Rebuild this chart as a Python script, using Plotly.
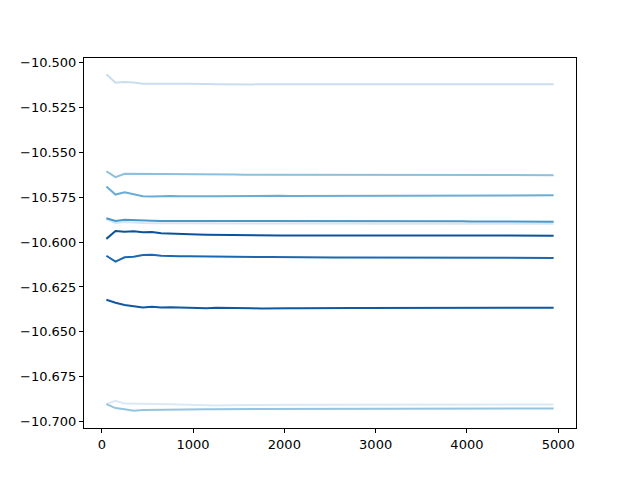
import plotly.graph_objects as go

steps = [50 + 100 * i for i in range(50)]

line_a = [-10.5065, -10.5112, -10.5108, -10.5110, -10.5118, -10.5119, -10.5119, -10.5120, -10.5118, -10.5118,
          -10.5117, -10.5119, -10.5120, -10.5121, -10.5122, -10.5122, -10.5121, -10.5120, -10.5120, -10.5120,
          -10.5119, -10.5119, -10.5119, -10.5119, -10.5118, -10.5118, -10.5118, -10.5119, -10.5119, -10.5118,
          -10.5118, -10.5119, -10.5119, -10.5119, -10.5119, -10.5119, -10.5120, -10.5120, -10.5120, -10.5120,
          -10.5120, -10.5120, -10.5119, -10.5120, -10.5120, -10.5120, -10.5120, -10.5120, -10.5120, -10.5120]
line_b = [-10.5605, -10.5638, -10.5619, -10.5619, -10.5621, -10.5619, -10.5619, -10.5620, -10.5622, -10.5620,
          -10.5621, -10.5622, -10.5622, -10.5623, -10.5623, -10.5624, -10.5624, -10.5624, -10.5625, -10.5625,
          -10.5625, -10.5626, -10.5625, -10.5626, -10.5626, -10.5626, -10.5626, -10.5626, -10.5627, -10.5627,
          -10.5627, -10.5626, -10.5627, -10.5627, -10.5627, -10.5628, -10.5627, -10.5627, -10.5627, -10.5627,
          -10.5627, -10.5627, -10.5627, -10.5627, -10.5627, -10.5627, -10.5627, -10.5627, -10.5627, -10.5627]
line_c = [-10.5690, -10.5735, -10.5722, -10.5733, -10.5744, -10.5746, -10.5743, -10.5743, -10.5744, -10.5743,
          -10.5744, -10.5744, -10.5745, -10.5744, -10.5744, -10.5743, -10.5743, -10.5743, -10.5742, -10.5742,
          -10.5743, -10.5743, -10.5743, -10.5742, -10.5742, -10.5742, -10.5742, -10.5742, -10.5742, -10.5742,
          -10.5741, -10.5741, -10.5741, -10.5742, -10.5741, -10.5741, -10.5741, -10.5740, -10.5740, -10.5740,
          -10.5740, -10.5740, -10.5739, -10.5739, -10.5739, -10.5739, -10.5739, -10.5739, -10.5739, -10.5739]
line_d = [-10.5867, -10.5882, -10.5876, -10.5879, -10.5880, -10.5881, -10.5882, -10.5883, -10.5884, -10.5884,
          -10.5884, -10.5883, -10.5882, -10.5882, -10.5881, -10.5881, -10.5881, -10.5881, -10.5881, -10.5881,
          -10.5880, -10.5880, -10.5880, -10.5880, -10.5881, -10.5881, -10.5881, -10.5882, -10.5882, -10.5882,
          -10.5882, -10.5883, -10.5883, -10.5883, -10.5883, -10.5884, -10.5884, -10.5884, -10.5884, -10.5884,
          -10.5885, -10.5885, -10.5885, -10.5885, -10.5885, -10.5885, -10.5885, -10.5886, -10.5886, -10.5886]
line_e = [-10.5872, -10.5893, -10.5888, -10.5892, -10.5894, -10.5895, -10.5895, -10.5896, -10.5896, -10.5896,
          -10.5896, -10.5895, -10.5895, -10.5895, -10.5894, -10.5894, -10.5894, -10.5894, -10.5894, -10.5895,
          -10.5895, -10.5895, -10.5895, -10.5896, -10.5896, -10.5896, -10.5896, -10.5896, -10.5897, -10.5897,
          -10.5897, -10.5897, -10.5897, -10.5897, -10.5897, -10.5897, -10.5898, -10.5898, -10.5898, -10.5898,
          -10.5898, -10.5898, -10.5898, -10.5898, -10.5898, -10.5898, -10.5898, -10.5898, -10.5898, -10.5898]
line_f = [-10.5982, -10.5938, -10.5942, -10.5940, -10.5945, -10.5944, -10.5950, -10.5953, -10.5955, -10.5956,
          -10.5958, -10.5959, -10.5960, -10.5961, -10.5962, -10.5962, -10.5962, -10.5963, -10.5963, -10.5963,
          -10.5963, -10.5963, -10.5963, -10.5963, -10.5963, -10.5963, -10.5964, -10.5964, -10.5964, -10.5964,
          -10.5964, -10.5964, -10.5964, -10.5964, -10.5964, -10.5964, -10.5964, -10.5964, -10.5964, -10.5964,
          -10.5964, -10.5964, -10.5964, -10.5964, -10.5964, -10.5964, -10.5964, -10.5964, -10.5964, -10.5964]
line_g = [-10.6076, -10.6109, -10.6085, -10.6082, -10.6072, -10.6070, -10.6076, -10.6079, -10.6079, -10.6079,
          -10.6080, -10.6081, -10.6081, -10.6082, -10.6081, -10.6082, -10.6083, -10.6083, -10.6083, -10.6084,
          -10.6084, -10.6085, -10.6085, -10.6085, -10.6085, -10.6086, -10.6086, -10.6086, -10.6086, -10.6087,
          -10.6087, -10.6087, -10.6087, -10.6087, -10.6087, -10.6087, -10.6087, -10.6088, -10.6088, -10.6088,
          -10.6088, -10.6088, -10.6088, -10.6088, -10.6088, -10.6088, -10.6088, -10.6088, -10.6088, -10.6088]
line_h = [-10.6321, -10.6338, -10.6350, -10.6357, -10.6364, -10.6360, -10.6364, -10.6363, -10.6364, -10.6367,
          -10.6370, -10.6368, -10.6366, -10.6366, -10.6365, -10.6368, -10.6369, -10.6370, -10.6371, -10.6370,
          -10.6369, -10.6369, -10.6368, -10.6368, -10.6368, -10.6367, -10.6367, -10.6367, -10.6367, -10.6367,
          -10.6367, -10.6367, -10.6366, -10.6366, -10.6366, -10.6367, -10.6367, -10.6367, -10.6366, -10.6366,
          -10.6366, -10.6366, -10.6366, -10.6366, -10.6366, -10.6366, -10.6366, -10.6366, -10.6366, -10.6366]
line_i = [-10.6903, -10.6925, -10.6932, -10.6940, -10.6936, -10.6935, -10.6934, -10.6931, -10.6931, -10.6931,
          -10.6931, -10.6931, -10.6931, -10.6931, -10.6931, -10.6931, -10.6930, -10.6930, -10.6930, -10.6930,
          -10.6930, -10.6930, -10.6929, -10.6929, -10.6929, -10.6929, -10.6929, -10.6929, -10.6929, -10.6929,
          -10.6928, -10.6928, -10.6928, -10.6928, -10.6928, -10.6928, -10.6928, -10.6928, -10.6928, -10.6927,
          -10.6927, -10.6927, -10.6927, -10.6927, -10.6927, -10.6927, -10.6927, -10.6927, -10.6927, -10.6927]
line_j = [-10.6903, -10.6884, -10.6900, -10.6900, -10.6899, -10.6900, -10.6901, -10.6903, -10.6905, -10.6907,
          -10.6909, -10.6910, -10.6910, -10.6909, -10.6908, -10.6908, -10.6907, -10.6907, -10.6907, -10.6907,
          -10.6906, -10.6906, -10.6906, -10.6906, -10.6906, -10.6906, -10.6905, -10.6905, -10.6905, -10.6905,
          -10.6905, -10.6905, -10.6905, -10.6905, -10.6905, -10.6905, -10.6905, -10.6905, -10.6905, -10.6905,
          -10.6905, -10.6905, -10.6905, -10.6905, -10.6905, -10.6905, -10.6905, -10.6905, -10.6905, -10.6905]

series = [
    (line_j, "#dbe9f6"),
    (line_e, "#d6e6f4"),
    (line_a, "#c9ddf0"),
    (line_i, "#94c4df"),
    (line_b, "#8cc0de"),
    (line_c, "#69add5"),
    (line_d, "#4a98c9"),
    (line_g, "#1c68b0"),
    (line_h, "#0e59a2"),
    (line_f, "#0b539d"),
]

fig = go.Figure()
for vals, col in series:
    fig.add_trace(go.Scatter(x=steps, y=vals, mode="lines",
                             line=dict(color=col, width=2), showlegend=False))

axis_common = dict(showline=True, linecolor="black", linewidth=1, mirror=True,
                   ticks="outside", ticklen=4, tickwidth=1, tickcolor="black",
                   showgrid=False, zeroline=False,
                   tickfont=dict(family="DejaVu Sans", size=13, color="black"))

fig.update_layout(
    width=632, height=472,
    margin=dict(l=72, r=64, t=50, b=52),
    plot_bgcolor="white", paper_bgcolor="white",
    xaxis=dict(range=[-195, 5195], tickvals=[0, 1000, 2000, 3000, 4000, 5000], **axis_common),
    yaxis=dict(range=[-10.7036, -10.4974], tickformat=".3f",
               tickvals=[-10.700, -10.675, -10.650, -10.625, -10.600, -10.575, -10.550, -10.525, -10.500],
               **axis_common),
)

fig.write_html("out.html")
